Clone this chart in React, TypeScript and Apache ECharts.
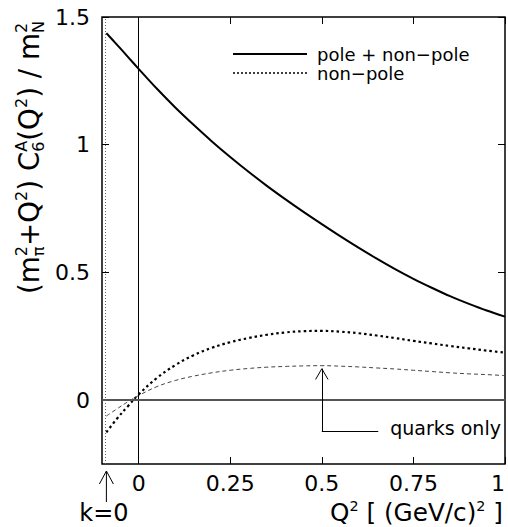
import React, { useEffect, useRef } from "react";
import * as echarts from "echarts";

const FONT = "DejaVu Sans";

// ---- data ----
const q2 = [-0.088, -0.06, -0.03, 0, 0.05, 0.1, 0.15, 0.2, 0.25, 0.3, 0.35, 0.4, 0.45, 0.5, 0.55, 0.6, 0.65, 0.7, 0.75, 0.8, 0.85, 0.9, 0.95, 1.0];
const poleNonPole = [1.437, 1.393, 1.345, 1.297, 1.219, 1.146, 1.078, 1.013, 0.952, 0.894, 0.839, 0.787, 0.737, 0.689, 0.642, 0.597, 0.554, 0.513, 0.475, 0.440, 0.407, 0.378, 0.351, 0.327];
const nonPole = [-0.126, -0.074, -0.025, 0.022, 0.087, 0.137, 0.176, 0.205, 0.227, 0.243, 0.256, 0.265, 0.270, 0.271, 0.268, 0.262, 0.253, 0.243, 0.232, 0.222, 0.212, 0.203, 0.194, 0.186];
const quarksOnly = [-0.062, -0.035, -0.007, 0.018, 0.053, 0.077, 0.094, 0.107, 0.117, 0.124, 0.129, 0.132, 0.134, 0.135, 0.133, 0.130, 0.126, 0.122, 0.117, 0.112, 0.107, 0.103, 0.100, 0.096];

const xTicks = [0, 0.25, 0.5, 0.75, 1];
const yTicks = [0, 0.5, 1, 1.5];
const xLabels = ["0", "0.25", "0.5", "0.75", "1"];
const yLabels = ["0", "0.5", "1", "1.5"];
const kZero = -0.088;

const NAME_FULL = "pole + non\u2212pole";
const NAME_NP = "non\u2212pole";

type Sub = { t: string; pos: "sub" | "sup" };
type Piece = { t: string; pos?: "sub" | "sup" } | { stack: Sub[] };

const yTitle: Piece[] = [
  { t: "(" }, { t: "m" }, { stack: [{ t: "\u03c0", pos: "sub" }, { t: "2", pos: "sup" }] },
  { t: "+Q" }, { t: "2", pos: "sup" }, { t: ") " }, { t: "C" },
  { stack: [{ t: "6", pos: "sub" }, { t: "A", pos: "sup" }] },
  { t: "(Q" }, { t: "2", pos: "sup" }, { t: ") / m" },
  { stack: [{ t: "N", pos: "sub" }, { t: "2", pos: "sup" }] },
];
const xTitle: Piece[] = [
  { t: "Q" }, { t: "2", pos: "sup" }, { t: " [ (GeV/c)" }, { t: "2", pos: "sup" }, { t: " ]" },
];

const SMALL = 0.58;

function measure(ctx: CanvasRenderingContext2D, text: string, size: number) {
  ctx.font = `${size}px ${FONT}`;
  return ctx.measureText(text).width;
}

function layoutPieces(pieces: Piece[], baseSize: number, target: number) {
  const ctx = document.createElement("canvas").getContext("2d")!;
  const widthAt = (s: number) => {
    let w = 0;
    for (const p of pieces) {
      if ("stack" in p) w += Math.max(...p.stack.map((q) => measure(ctx, q.t, s * SMALL)));
      else w += measure(ctx, p.t, p.pos ? s * SMALL : s);
    }
    return w;
  };
  const s = (baseSize * target) / widthAt(baseSize);
  const items: { text: string; x: number; dy: number; size: number }[] = [];
  let x = 0;
  const dyOf = (pos?: "sub" | "sup") => (pos === "sup" ? -0.42 * s : pos === "sub" ? 0.2 * s : 0);
  for (const p of pieces) {
    if ("stack" in p) {
      let w = 0;
      for (const q of p.stack) {
        items.push({ text: q.t, x, dy: dyOf(q.pos), size: s * SMALL });
        w = Math.max(w, measure(ctx, q.t, s * SMALL));
      }
      x += w;
    } else {
      const size = p.pos ? s * SMALL : s;
      items.push({ text: p.t, x, dy: dyOf(p.pos), size });
      x += measure(ctx, p.t, size);
    }
  }
  return items.map((it) => ({
    type: "text",
    x: it.x,
    y: it.dy - 0.346 * it.size,
    style: { text: it.text, fontSize: it.size, fontFamily: FONT, fill: "#000", align: "left", verticalAlign: "middle" },
  }));
}

const fmtX = (v: number) => xLabels[xTicks.indexOf(v)] ?? String(v);
const fmtY = (v: number) => yLabels[yTicks.indexOf(v)] ?? String(v);

export default function App() {
  const ref = useRef<HTMLDivElement>(null);
  useEffect(() => {
    const chart = echarts.init(ref.current!, null, { renderer: "svg" });
    const tickStyle = { color: "#000", width: 1 };
    const noLine = { show: false, onZero: false };
    const option: any = {
      animation: false,
      backgroundColor: "#fff",
      grid: {
        left: 102, right: 3, top: 17, bottom: 63, show: true, borderColor: "#000", borderWidth: 1.5,
        backgroundColor: "transparent", containLabel: false, outerBoundsMode: "none",
      },
      legend: {
        data: [
          { name: NAME_FULL, lineStyle: { width: 2 } },
          { name: NAME_NP, lineStyle: { width: 1.5, type: [2, 2] } },
        ],
        orient: "vertical",
        left: 232,
        top: 45,
        padding: 0,
        itemWidth: 74,
        itemHeight: 14,
        itemGap: 1,
        itemStyle: { opacity: 0 },
        textStyle: { fontSize: 18, lineHeight: 18, fontFamily: FONT, color: "#000", padding: [0, 0, 0, 5] },
      },
      xAxis: [
        {
          type: "value", min: -0.1, max: 1, position: "bottom",
          axisLine: noLine, splitLine: { show: false },
          axisTick: { inside: true, length: 7, lineStyle: tickStyle, customValues: xTicks },
          axisLabel: { customValues: xTicks, formatter: fmtX, margin: 8, fontSize: 22, fontFamily: FONT, color: "#000", alignMaxLabel: "right" },
        },
        {
          type: "value", min: -0.1, max: 1, position: "top",
          axisLine: noLine, splitLine: { show: false },
          axisTick: { inside: true, length: 7, lineStyle: tickStyle, customValues: xTicks },
          axisLabel: { show: false },
        },
      ],
      yAxis: [
        {
          type: "value", min: -0.25, max: 1.5, position: "left",
          axisLine: noLine, splitLine: { show: false },
          axisTick: { inside: true, length: 7, lineStyle: tickStyle, customValues: yTicks },
          axisLabel: { customValues: yTicks, formatter: fmtY, margin: 12, fontSize: 22, fontFamily: FONT, color: "#000" },
        },
        {
          type: "value", min: -0.25, max: 1.5, position: "right",
          axisLine: noLine, splitLine: { show: false },
          axisTick: { inside: true, length: 7, lineStyle: tickStyle, customValues: yTicks },
          axisLabel: { show: false },
        },
      ],
      series: [
        {
          name: NAME_FULL, type: "line", symbol: "none", smooth: 0.3,
          data: q2.map((x, i) => [x, poleNonPole[i]]),
          lineStyle: { color: "#000", width: 2 }, itemStyle: { color: "#000" },
          markLine: {
            silent: true, symbol: ["none", "none"], label: { show: false },
            data: [
              { xAxis: 0, lineStyle: { color: "#000", width: 1, type: "solid" } },
              { yAxis: 0, lineStyle: { color: "#555", width: 2, type: "solid" } },
              { xAxis: kZero, lineStyle: { color: "#666", width: 1, type: [1, 2] } },
              [{ coord: [0.5, 0.123], lineStyle: { color: "#000", width: 1, type: "solid" } }, { coord: [0.5, -0.121] }],
              [{ coord: [0.5, -0.121], lineStyle: { color: "#000", width: 1, type: "solid" } }, { coord: [0.654, -0.121] }],
              [{ coord: [0.5, 0.123], lineStyle: { color: "#000", width: 1, type: "solid" } }, { coord: [0.483, 0.081] }],
              [{ coord: [0.5, 0.123], lineStyle: { color: "#000", width: 1, type: "solid" } }, { coord: [0.517, 0.081] }],
            ],
          },
        },
        {
          name: NAME_NP, type: "line", symbol: "none", smooth: 0.4,
          data: q2.map((x, i) => [x, nonPole[i]]),
          lineStyle: { color: "#000", width: 2.2, type: [2.5, 3] }, itemStyle: { color: "#000" },
        },
        {
          name: "quarks only", type: "line", symbol: "none", smooth: 0.4,
          data: q2.map((x, i) => [x, quarksOnly[i]]),
          lineStyle: { color: "#444", width: 1, type: [4, 3] }, itemStyle: { color: "#444" },
        },
      ],
    };
    chart.setOption(option);

    const kx = chart.convertToPixel({ xAxisIndex: 0 }, kZero) as number;
    const elbow = chart.convertToPixel({ xAxisIndex: 0, yAxisIndex: 0 }, [0.654, -0.121]) as number[];

    chart.setOption({
      graphic: [
        {
          type: "group", x: 39, y: 294, rotation: Math.PI / 2,
          children: layoutPieces(yTitle, 24, 273),
        },
        {
          type: "group", x: 330, y: 521,
          children: layoutPieces(xTitle, 24, 173),
        },
        { type: "line", shape: { x1: kx, y1: 502, x2: kx, y2: 471 }, style: { stroke: "#000", lineWidth: 1 } },
        { type: "polyline", shape: { points: [[kx - 7, 484], [kx, 471], [kx + 7, 484]] }, style: { stroke: "#000", lineWidth: 1, fill: null } },
        {
          type: "text", x: 104, y: 513,
          style: { text: "k=0", fontSize: 24, fontFamily: FONT, fill: "#000", align: "center", verticalAlign: "middle" },
        },
        {
          type: "text", x: elbow[0] + 12, y: elbow[1] - 3,
          style: { text: "quarks only", fontSize: 19, fontFamily: FONT, fill: "#000", align: "left", verticalAlign: "middle" },
        },
      ],
    });
    return () => chart.dispose();
  }, []);
  return <div ref={ref} style={{ position: "fixed", left: 0, top: 0, width: 508, height: 527 }} />;
}
